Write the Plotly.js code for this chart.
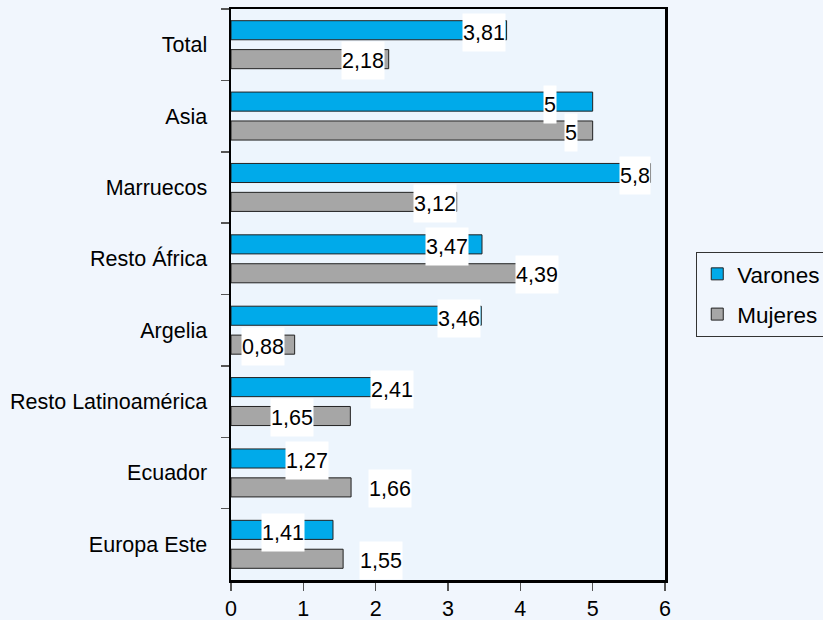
<!DOCTYPE html>
<html>
<head>
<meta charset="utf-8">
<script src="https://cdn.plot.ly/plotly-3.0.1.min.js"></script>
<style>html,body{margin:0;padding:0;background:#f1f6fd;}</style>
</head>
<body>
<div id="chart" style="width:823px;height:620px;"></div>
<script>
const categories = ["Total", "Asia", "Marruecos", "Resto África", "Argelia", "Resto Latinoamérica", "Ecuador", "Europa Este"];
const varones = [3.81, 5, 5.8, 3.47, 3.46, 2.41, 1.27, 1.41];
const mujeres = [2.18, 5, 3.12, 4.39, 0.88, 1.65, 1.66, 1.55];
const seriesNames = ["Varones", "Mujeres"];

// label placement tweaks (pixels, relative to bar end) - layout only
const varonesLabelShift = [-1, -36, 0, -13, 0, 9, 6, -28];
const mujeresLabelShift = [-4, -15, 0, 10, -10, -36, 61, 60];

const fmt = v => String(v).replace('.', ',');
const font = 'Arial, "Liberation Sans", Helvetica, sans-serif';
const fs = 21.5;

const traces = [
  {type: 'bar', orientation: 'h', name: seriesNames[0], y: categories, x: varones,
   marker: {color: '#00aaea', line: {color: '#222', width: 1}}, legendgroup: 'a', hoverinfo: 'x+y'},
  {type: 'bar', orientation: 'h', name: seriesNames[1], y: categories, x: mujeres,
   marker: {color: '#a6a6a6', line: {color: '#222', width: 1}}, legendgroup: 'b', hoverinfo: 'x+y'}
];

const annotations = [];
categories.forEach((c, i) => {
  annotations.push({x: varones[i], y: c, xref: 'x', yref: 'y', text: fmt(varones[i]), showarrow: false,
    xanchor: 'right', yanchor: 'middle', xshift: varonesLabelShift[i], yshift: 12,
    bgcolor: '#ffffff', height: 37, borderpad: 0, font: {family: font, size: fs, color: '#000'}});
  annotations.push({x: mujeres[i], y: c, xref: 'x', yref: 'y', text: fmt(mujeres[i]), showarrow: false,
    xanchor: 'right', yanchor: 'middle', xshift: mujeresLabelShift[i], yshift: -16,
    bgcolor: '#ffffff', height: 37, borderpad: 0, font: {family: font, size: fs, color: '#000'}});
});

const layout = {
  width: 823, height: 620,
  paper_bgcolor: '#f1f6fd', plot_bgcolor: '#edf5fd',
  margin: {l: 231, r: 158, t: 9, b: 40, pad: 0},
  barmode: 'group', bargap: 0.19, bargroupgap: 0.34,
  font: {family: font, size: fs, color: '#000'},
  xaxis: {range: [0, 6], dtick: 1, showgrid: false, zeroline: false, automargin: false,
    ticks: 'outside', ticklen: 8, tickcolor: '#555', tickwidth: 1.5,
    showline: true, mirror: true, linecolor: '#000', linewidth: 2.5,
    tickfont: {family: font, size: fs, color: '#000'}},
  yaxis: {type: 'category', autorange: 'reversed', showgrid: false, zeroline: false, automargin: false,
    ticks: 'outside', tickson: 'boundaries', ticklen: 8, tickcolor: '#555', tickwidth: 1.5,
    showline: true, mirror: true, linecolor: '#000', linewidth: 2.5,
    ticklabelstandoff: 17,
    tickfont: {family: font, size: fs, color: '#000'}},
  legend: {xref: 'container', yref: 'container', x: 0.846, y: 0.594, xanchor: 'left', yanchor: 'top',
    bordercolor: '#333', borderwidth: 1, bgcolor: 'rgba(0,0,0,0)',
    traceorder: 'grouped', tracegroupgap: 8, itemwidth: 30,
    font: {family: font, size: 22.5, color: '#000'}},
  annotations: annotations,
  showlegend: true
};

Plotly.newPlot('chart', traces, layout, {displayModeBar: false, staticPlot: true});
</script>
</body>
</html>
